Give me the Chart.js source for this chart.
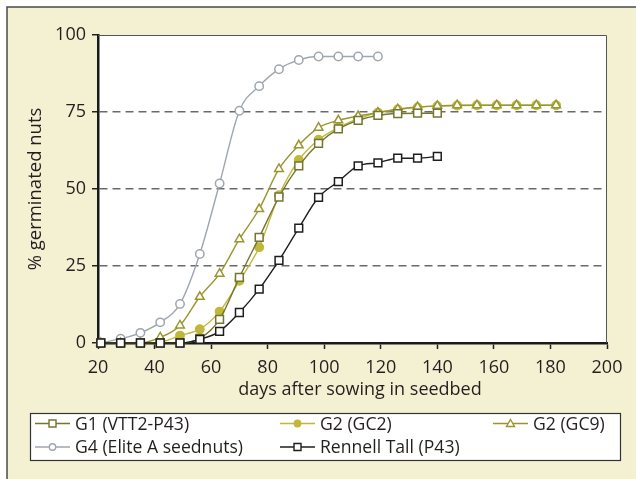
<!DOCTYPE html>
<html>
<head>
<meta charset="utf-8">
<script src="https://cdn.jsdelivr.net/npm/chart.js@4.4.1/dist/chart.umd.min.js"></script>
<style>
  html, body { margin: 0; padding: 0; background: #ffffff; }
  #wrap { position: relative; width: 636px; height: 479px; }
</style>
</head>
<body>
<div id="wrap"><canvas id="c" width="636" height="479"></canvas></div>
<script>
// ---- data ----
const days = [21, 28, 35, 42, 49, 56, 63, 70, 77, 84, 91, 98, 105, 112, 119, 126, 133, 140, 147, 154, 161, 168, 175, 182];
const seriesLabels = ['G1 (VTT2-P43)', 'G2 (GC2)', 'G2 (GC9)', 'G4 (Elite A seednuts)', 'Rennell Tall (P43)'];
const g1Values = [0, 0, 0, 0, 0, 1.5, 7.7, 21.3, 34.3, 47.4, 57.5, 64.8, 69.5, 72.3, 73.9, 74.5, 74.6, 74.6];
const gc2Values = [0, 0, 0, 0.3, 2.4, 4.5, 10.2, 20.2, 31.1, 48.0, 59.4, 66.0, 69.9, 72.8, 74.8, 75.8, 76.5, 76.9, 77.1, 77.2, 77.2, 77.2, 77.2, 77.2];
const gc9Values = [0, 0, 0, 1.8, 5.7, 15.0, 22.5, 33.7, 43.5, 56.5, 64.2, 69.9, 72.3, 73.7, 74.8, 75.9, 76.6, 77.0, 77.2, 77.2, 77.2, 77.2, 77.2, 77.2];
const g4Values = [0, 1.4, 3.3, 6.7, 12.7, 28.9, 51.8, 75.4, 83.4, 88.9, 91.9, 93.0, 93.0, 93.0, 93.0];
const rennellValues = [0, 0, 0, 0, 0, 1.2, 3.8, 9.9, 17.5, 26.8, 37.3, 47.3, 52.4, 57.5, 58.5, 60.0, 60.0, 60.6];
const xTicks = [20, 40, 60, 80, 100, 120, 140, 160, 180, 200];
const yTicks = [0, 25, 50, 75, 100];
const xTitle = 'days after sowing in seedbed';
const yTitle = '% germinated nuts';

// ---- styles ----
const FONT = '"Open Sans", "Noto Sans", sans-serif';
const TXT = '#231f20';
const colors = ['#74752f', '#c0b83a', '#9a962f', '#9ea6ae', '#1e1e1e'];
const styles = [
  { pointStyle: 'rect', radius: 5.5, fill: '#ffffff' },
  { pointStyle: 'circle', radius: 4.2, fill: null },
  { pointStyle: 'triangle', radius: 5, fill: '#ffffff' },
  { pointStyle: 'circle', radius: 4.2, fill: '#ffffff' },
  { pointStyle: 'rect', radius: 5.5, fill: '#ffffff' }
];
const drawOrder = [1, 3, 2, 4, 0];
const valueLists = [g1Values, gc2Values, gc9Values, g4Values, rennellValues];

const datasets = valueLists.map((vals, i) => ({
  label: seriesLabels[i],
  data: vals.map((v, j) => ({ x: days[j], y: v })),
  borderColor: colors[i],
  backgroundColor: styles[i].fill || colors[i],
  pointBorderColor: colors[i],
  pointBackgroundColor: styles[i].fill || colors[i],
  pointStyle: styles[i].pointStyle,
  pointRadius: styles[i].radius,
  pointBorderWidth: 1.5,
  borderWidth: 1.4,
  cubicInterpolationMode: 'monotone',
  order: drawOrder[i],
  clip: false
}));

const framePlugin = {
  id: 'frame',
  beforeDraw(chart) {
    const ctx = chart.ctx;
    const a = chart.chartArea;
    ctx.save();
    ctx.fillStyle = '#ffffff';
    ctx.fillRect(0, 0, chart.width, chart.height);
    ctx.fillStyle = '#f4f1d3';
    ctx.fillRect(7, 7, chart.width - 7, chart.height - 7);
    ctx.strokeStyle = '#4a4a4a';
    ctx.lineWidth = 1.5;
    ctx.beginPath();
    ctx.moveTo(7, chart.height);
    ctx.lineTo(7, 7);
    ctx.lineTo(chart.width, 7);
    ctx.stroke();
    ctx.fillStyle = '#ffffff';
    ctx.fillRect(a.left, a.top, a.right - a.left, a.bottom - a.top);
    ctx.restore();
  },
  afterDraw(chart) {
    const ctx = chart.ctx;
    const a = chart.chartArea;
    ctx.save();
    // thin top / right border of plot area
    ctx.strokeStyle = '#555555';
    ctx.lineWidth = 1;
    ctx.beginPath();
    ctx.moveTo(a.left, a.top + 0.5);
    ctx.lineTo(a.right - 0.5, a.top + 0.5);
    ctx.lineTo(a.right - 0.5, a.bottom);
    ctx.stroke();

    // x axis title
    ctx.fillStyle = TXT;
    ctx.font = '18px ' + FONT;
    ctx.textAlign = 'center';
    ctx.textBaseline = 'middle';
    ctx.fillText(xTitle, 360, 390);

    // legend box
    const bx = 30, by = 413, bw = 590, bh = 47;
    ctx.fillStyle = '#ffffff';
    ctx.fillRect(bx, by, bw, bh);
    ctx.strokeStyle = '#333333';
    ctx.lineWidth = 1.2;
    ctx.strokeRect(bx + 0.5, by + 0.5, bw, bh);
    const pos = [[35, 423.5], [280, 423.5], [493, 423.5], [35, 447], [280, 447]];
    ctx.font = '17.6px ' + FONT;
    ctx.textBaseline = 'middle';
    ctx.textAlign = 'left';
    chart.data.datasets.forEach((ds, i) => {
      const [x, y] = pos[i];
      ctx.strokeStyle = colors[i];
      ctx.lineWidth = 1.5;
      ctx.beginPath();
      ctx.moveTo(x, y);
      ctx.lineTo(x + 35, y);
      ctx.stroke();
      const cx = x + 17.5;
      ctx.fillStyle = styles[i].fill || colors[i];
      ctx.lineWidth = 1.4;
      ctx.beginPath();
      if (styles[i].pointStyle === 'rect') {
        ctx.rect(cx - 3.5, y - 3.5, 7, 7);
      } else if (styles[i].pointStyle === 'triangle') {
        ctx.moveTo(cx, y - 4);
        ctx.lineTo(cx + 4, y + 3);
        ctx.lineTo(cx - 4, y + 3);
        ctx.closePath();
      } else {
        ctx.arc(cx, y, 3.2, 0, Math.PI * 2);
      }
      ctx.fill();
      ctx.stroke();
      ctx.fillStyle = TXT;
      ctx.fillText(ds.label, x + 40, y + 1);
    });
    ctx.restore();
  }
};

new Chart(document.getElementById('c'), {
  type: 'line',
  data: { datasets },
  options: {
    responsive: false,
    animation: false,
    devicePixelRatio: 1,
    layout: { padding: { left: 25, top: 35, right: 29, bottom: 81 } },
    plugins: { legend: { display: false }, tooltip: { enabled: false } },
    scales: {
      x: {
        type: 'linear',
        min: 20, max: 200,
        afterBuildTicks: s => { s.ticks = xTicks.map(v => ({ value: v })); },
        afterFit: s => { s.height = 55; },
        grid: { drawOnChartArea: false, drawTicks: true, tickLength: 6, tickColor: '#222222', tickWidth: 1.5, color: '#222222' },
        border: { display: true, color: '#1a1a1a', width: 2.5 },
        ticks: { color: TXT, font: { family: FONT, size: 18 }, padding: 8, maxRotation: 0 },
        title: { display: false }
      },
      y: {
        min: 0, max: 100,
        afterBuildTicks: s => { s.ticks = yTicks.map(v => ({ value: v })); },
        afterFit: s => { s.width = 73; },
        grid: {
          drawOnChartArea: true, drawTicks: true, tickLength: 6,
          tickColor: '#222222', tickWidth: 1.5, tickBorderDash: [],
          color: ctx => (ctx.tick && (ctx.tick.value === 0 || ctx.tick.value === 100)) ? 'rgba(0,0,0,0)' : '#6a6a6a',
          lineWidth: 1.5
        },
        border: { display: true, color: '#1a1a1a', width: 2.5, dash: [8, 5] },
        ticks: { color: TXT, font: { family: FONT, size: 18 }, padding: 6 },
        title: { display: true, text: yTitle, color: TXT, font: { family: FONT, size: 18.5 }, padding: 0 }
      }
    }
  },
  plugins: [framePlugin]
});
</script>
</body>
</html>
